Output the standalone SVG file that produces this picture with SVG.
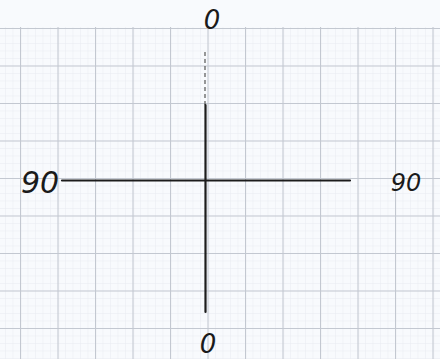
<svg xmlns="http://www.w3.org/2000/svg" width="440" height="359" viewBox="0 0 440 359">
<defs>
<pattern id="fine" x="20" y="28" width="7.5" height="7.5" patternUnits="userSpaceOnUse">
<path d="M0 0H7.5M0 0V7.5" stroke="#e6e9ef" stroke-width="0.8" fill="none"/>
</pattern>
<pattern id="major" x="20" y="28" width="37.5" height="37.5" patternUnits="userSpaceOnUse">
<path d="M0 0.5H37.5M0.5 0V37.5" stroke="#c3c8d1" stroke-width="1.2" fill="none"/>
</pattern>
</defs>
<style>
.lbl{font-family:"DejaVu Sans","Liberation Sans",sans-serif;fill:#1a1a1a;font-style:italic}
.ax{stroke:#1c1c1c;stroke-width:2.2;fill:none;stroke-linecap:round}
</style>
<rect width="440" height="359" fill="#f8fafd"/>
<rect x="0" y="27" width="440" height="332" fill="url(#fine)"/>
<rect x="0" y="27" width="440" height="332" fill="url(#major)"/>
<g id="connectors">
<path class="ax" d="M62 180.5H350"/>
<path d="M205 52V105" stroke="#555" stroke-width="1.2" stroke-dasharray="4 3"/>
<path class="ax" d="M205.5 105V312"/>
</g>
<g id="top"><text class="lbl" x="212" y="29" font-size="26" text-anchor="middle">0</text></g>
<g id="left"><text class="lbl" x="40" y="193" font-size="30" text-anchor="middle">90</text></g>
<g id="right"><text class="lbl" x="406" y="191" font-size="24" text-anchor="middle">90</text></g>
<g id="bottom"><text class="lbl" x="208" y="353" font-size="26" text-anchor="middle">0</text></g>
</svg>
